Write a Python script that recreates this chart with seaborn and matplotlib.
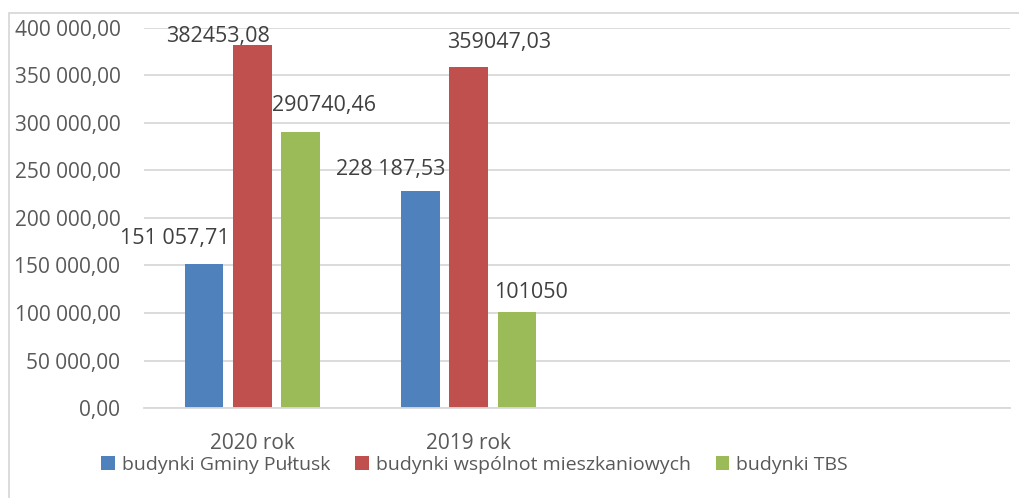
import matplotlib
matplotlib.use("Agg")
import matplotlib.pyplot as plt
import seaborn as sns
import pandas as pd
from matplotlib.patches import Rectangle, Patch

categories = ["2020 rok", "2019 rok"]
empty_slots = ["", " "]
series = ["budynki Gminy Pułtusk", "budynki wspólnot mieszkaniowych", "budynki TBS"]
values_gmina = [151057.71, 228187.53]
values_wspolnoty = [382453.08, 359047.03]
values_tbs = [290740.46, 101050]
labels_gmina = ["151 057,71", "228 187,53"]
labels_wspolnoty = ["382453,08", "359047,03"]
labels_tbs = ["290740,46", "101050"]
yticks = [0, 50000, 100000, 150000, 200000, 250000, 300000, 350000, 400000]
colors = ["#4f81bd", "#c0504d", "#9bbb59"]

rows = []
for s, vals in zip(series, [values_gmina, values_wspolnoty, values_tbs]):
    for c, v in zip(categories, vals):
        rows.append({"cat": c, "series": s, "value": v})
df = pd.DataFrame(rows)

sns.set_theme(style="white")
plt.rcParams["font.family"] = ["Open Sans", "DejaVu Sans"]
txt = "#595959"
fs = 15

fig = plt.figure(figsize=(10.2, 4.98), dpi=100)
ax = fig.add_axes([144/1020, 1-408/498, (1010-144)/1020, (408-28)/498])

sns.barplot(data=df, x="cat", y="value", hue="series", order=categories + empty_slots,
            hue_order=series, palette=colors, width=0.667, gap=0.2, ax=ax,
            legend=False, saturation=1, errorbar=None, linewidth=0)

ax.set_ylim(0, 400000)
ax.set_xlim(-0.5, 3.5)
ax.set_yticks(yticks)
ax.set_yticklabels([f"{v:,.2f}".replace(",", " ").replace(".", ",") for v in yticks],
                   fontsize=fs, color=txt)
ax.tick_params(axis="x", labelsize=fs, colors=txt, length=0, pad=18)
ax.tick_params(axis="y", length=0, pad=17)
ax.set_xlabel("")
ax.set_ylabel("")
ax.grid(axis="y", color="#d9d9d9", linewidth=1.3)
ax.set_axisbelow(True)
for sp in ["left", "right", "top"]:
    ax.spines[sp].set_visible(False)
ax.spines["bottom"].set_color("#d9d9d9")
ax.spines["bottom"].set_linewidth(1.3)

# data labels (manually positioned in the original), offsets in pixels
all_labels = [labels_gmina, labels_wspolnoty, labels_tbs]
offsets = [[(-29, 26), (-29.5, 22)], [(-34, 8), (30, 24)], [(23.5, 26), (14.5, 20)]]
for ci, cont in enumerate(ax.containers):
    for bi, bar in enumerate(list(cont)[:2]):
        x = bar.get_x() + bar.get_width() / 2
        y = bar.get_height()
        dx, dy = offsets[ci][bi]
        ax.annotate(all_labels[ci][bi], (x, y), xytext=(dx * 0.72, dy * 0.72),
                    textcoords="offset points", ha="center", va="center",
                    fontsize=15.5, color="#404040")

handles = [Patch(facecolor=c, edgecolor="none") for c in colors]
fig.legend(handles, series, loc="center", bbox_to_anchor=(474.5/1020, 1-465/498),
           ncol=3, frameon=False, fontsize=14, labelcolor=txt,
           handlelength=0.7, handleheight=0.7, handletextpad=0.35, columnspacing=1.3)

fig.patches.append(Rectangle((9/1020, -0.1), 1.2, 1-13/498+0.1, transform=fig.transFigure,
                             fill=False, edgecolor="#d9d9d9", linewidth=1.3))

fig.savefig("out.png", dpi=100)
